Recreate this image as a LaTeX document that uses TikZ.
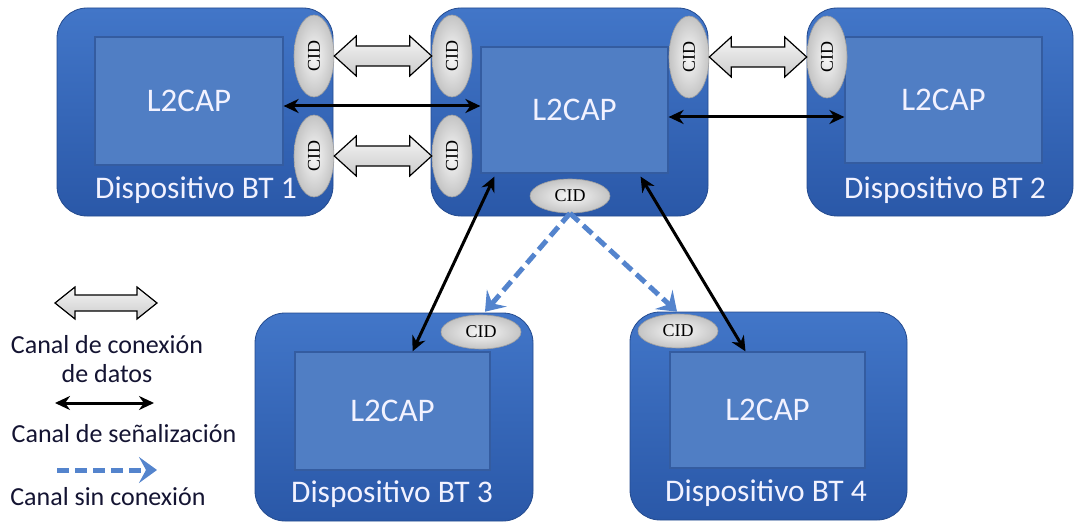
\documentclass[tikz,border=0pt]{standalone}
\usepackage{fontspec}
\setmainfont{Carlito}
\newfontfamily\cidfont{Liberation Serif}
\usetikzlibrary{shapes.geometric,arrows.meta,calc}
\definecolor{devtop}{RGB}{66,118,200}
\definecolor{devbot}{RGB}{42,88,168}
\definecolor{l2fill}{RGB}{80,126,196}
\definecolor{l2line}{RGB}{52,92,160}
\definecolor{cidin}{RGB}{248,248,248}
\definecolor{cidout}{RGB}{196,196,196}
\definecolor{cidline}{RGB}{160,160,160}
\definecolor{dashblue}{RGB}{84,132,205}
\definecolor{legcol}{RGB}{20,20,50}
% block (data channel) arrow: #1 from, #2 to, #3 head length, #4 half head, #5 half shaft
\newcommand{\dataarrow}[5]{%
  \draw[datachan] let \p1=(#1), \p2=(#2) in
    (\x1,\y1) -- (\x1+#3,\y1+#4) -- (\x1+#3,\y1+#5) -- (\x2-#3,\y1+#5)
    -- (\x2-#3,\y1+#4) -- (\x2,\y1) -- (\x2-#3,\y1-#4) -- (\x2-#3,\y1-#5)
    -- (\x1+#3,\y1-#5) -- (\x1+#3,\y1-#4) -- cycle;}
\begin{document}
\begin{tikzpicture}[x=1pt,y=-1pt,
  devbox/.style={rectangle, rounded corners=30pt, top color=devtop, bottom color=devbot,
    draw=devbot!85!black, line width=0.8pt, inner sep=0pt},
  l2box/.style={rectangle, fill=l2fill, draw=l2line, line width=1.2pt, inner sep=0pt,
    text=white!95!blue, font=\fontsize{33}{36}\selectfont},
  devlabel/.style={text=white!95!blue, font=\fontsize{31.5}{34}\selectfont, inner sep=0pt},
  cidbase/.style={ellipse, inner sep=0pt, inner color=cidin, outer color=cidout,
    draw=cidline, line width=0.6pt, font=\cidfont\fontsize{18}{19}\selectfont},
  cidv/.style={cidbase, minimum width=40pt, minimum height=82pt},
  cidh/.style={cidbase, minimum width=80pt, minimum height=34pt},
  sig/.style={line width=3pt, {Stealth[length=15pt,width=14pt]}-{Stealth[length=15pt,width=14pt]}},
  dsh/.style={line width=5pt, draw=dashblue, dash pattern=on 12pt off 6pt,
    -{Stealth[length=18pt,width=26pt,inset=7pt]}},
  datachan/.style={draw=black, line width=1.2pt, top color=gray!8, bottom color=gray!40},
  legtext/.style={font=\fontsize{26}{29}\selectfont, text=legcol, inner sep=0pt, align=center}
]
\useasboundingbox (0,0) rectangle (1078,524);

% device boxes
\node[devbox, minimum width=276pt, minimum height=208pt] (d1) at (195,112) {};
\node[devbox, minimum width=277pt, minimum height=208pt] (dc) at (569.5,112) {};
\node[devbox, minimum width=266pt, minimum height=208pt] (d2) at (940,112) {};
\node[devbox, minimum width=278pt, minimum height=208pt] (d3) at (394,417) {};
\node[devbox, minimum width=277pt, minimum height=208pt] (d4) at (768.5,416) {};

% L2CAP boxes
\node[l2box, minimum width=188pt, minimum height=128pt] (in1) at (189,101) {L2CAP};
\node[l2box, minimum width=187pt, minimum height=126pt] (cin) at (574.5,110) {L2CAP};
\node[l2box, minimum width=197pt, minimum height=126pt] (in2) at (943.5,100) {L2CAP};
\node[l2box, minimum width=195pt, minimum height=118pt] (in3) at (392.5,411) {L2CAP};
\node[l2box, minimum width=195pt, minimum height=116pt] (in4) at (767.5,410) {L2CAP};

% device labels
\node[devlabel] (t1) at (196,190) {Dispositivo BT 1};
\node[devlabel] (t2) at (945,190) {Dispositivo BT 2};
\node[devlabel] (t3) at (392,494) {Dispositivo BT 3};
\node[devlabel] (t4) at (766,493) {Dispositivo BT 4};

% CIDs
\node[cidv] (c1a) at (314,56) {\rotatebox{90}{CID}};
\node[cidv] (c1b) at (314,156) {\rotatebox{90}{CID}};
\node[cidv] (cca) at (452,56) {\rotatebox{90}{CID}};
\node[cidv] (ccb) at (452,156) {\rotatebox{90}{CID}};
\node[cidv] (ccr) at (689,57) {\rotatebox{90}{CID}};
\node[cidv] (c2a) at (827,57) {\rotatebox{90}{CID}};
\node[cidh] (ccd) at (570,196) {CID};
\node[cidh] (c3) at (481,332) {CID};
\node[cidh] (c4) at (678,331) {CID};

% data channels
\dataarrow{c1a.east}{cca.west}{22pt}{20pt}{10pt}
\dataarrow{c1b.east}{ccb.west}{22pt}{20pt}{10pt}
\dataarrow{ccr.east}{c2a.west}{22pt}{20pt}{10pt}

% signalling channels
\coordinate (s1a) at ([yshift=-5pt]in1.east);
\coordinate (s2a) at ([yshift=-7pt]cin.east);
\draw[sig] (s1a) -- (s1a -| cin.west);
\draw[sig] (s2a) -- (s2a -| in2.west);
\draw[sig] ([xshift=14pt,yshift=-3pt]cin.south west) -- ([xshift=20pt]in3.north);
\draw[sig] ([xshift=-28pt,yshift=-3pt]cin.south east) -- ([xshift=-22pt]in4.north);

% connectionless channels
\draw[dsh] (ccd.south) -- ([xshift=4pt,yshift=3pt]c3.north);
\draw[dsh] (ccd.south) -- ([xshift=-1pt,yshift=2pt]c4.north);

% legend
\coordinate (lga) at (55,303);
\coordinate (lgb) at (157,303);
\dataarrow{lga}{lgb}{20pt}{16pt}{8pt}
\node[legtext] (lt1) at (107,359) {Canal de conexión\\de datos};
\coordinate (lsa) at (55,403);
\coordinate (lsb) at (154,403);
\draw[sig] (lsa) -- (lsb);
\node[legtext] (lt2) at (124,434) {Canal de señalización};
\coordinate (lda) at (57,470);
\coordinate (ldb) at (157,470);
\draw[dsh] (lda) -- (ldb);
\node[legtext] (lt3) at (108,497) {Canal sin conexión};
\end{tikzpicture}
\end{document}
